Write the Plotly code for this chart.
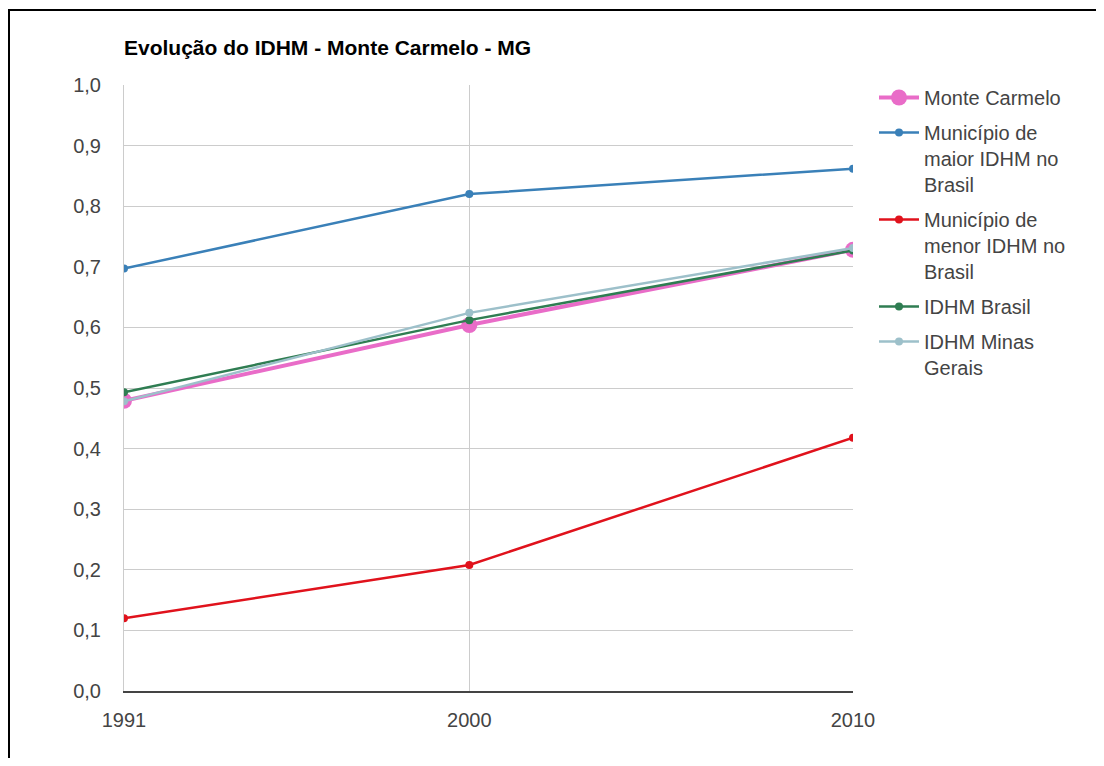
import plotly.graph_objects as go

years = [1991, 2000, 2010]
monte_carmelo = [0.479, 0.604, 0.728]
maior_idhm = [0.697, 0.820, 0.862]
menor_idhm = [0.120, 0.208, 0.418]
idhm_brasil = [0.493, 0.612, 0.727]
idhm_mg = [0.478, 0.624, 0.731]

y_ticks = [0.0, 0.1, 0.2, 0.3, 0.4, 0.5, 0.6, 0.7, 0.8, 0.9, 1.0]

series = [
    ("Monte Carmelo", monte_carmelo, "#e96cc8", 4, 16),
    ("Município de<br>maior IDHM no<br>Brasil", maior_idhm, "#3a80b8", 2.5, 8),
    ("Município de<br>menor IDHM no<br>Brasil", menor_idhm, "#e0121c", 2.5, 8),
    ("IDHM Brasil", idhm_brasil, "#2f7d52", 2.5, 8),
    ("IDHM Minas<br>Gerais", idhm_mg, "#9dc0ca", 2.5, 8),
]

# page has an 8px body margin; figure coordinates = page coordinates - 8
W, H = 1096, 750
L, R, T, B = 116, 251, 77, 67
pw, ph = W - L - R, H - T - B

fig = go.Figure()
for i, (name, vals, color, lw, ms) in enumerate(series):
    fig.add_trace(go.Scatter(
        x=years, y=vals, name=name, mode="lines+markers",
        line=dict(color=color, width=lw),
        marker=dict(color=color, size=ms),
        legendgroup=f"g{i}",
    ))

font_family = "Arial, Liberation Sans, sans-serif"


def px_x(p):
    return (p - L) / pw


def px_y(p):
    return 1 - (p - T) / ph


fig.add_shape(type="rect", xref="paper", yref="paper",
              x0=px_x(1), x1=px_x(1120), y0=px_y(790), y1=px_y(2),
              line=dict(color="black", width=2), layer="below")

fig.update_layout(
    width=W, height=H,
    margin=dict(l=L, r=R, t=T, b=B),
    paper_bgcolor="white", plot_bgcolor="white",
    separators=", ",
    font=dict(family=font_family, size=20, color="#444"),
    title=dict(text="<b>Evolução do IDHM - Monte Carmelo - MG</b>",
               x=px_x(116), xref="paper", xanchor="left",
               y=1 - 40 / H, yref="container", yanchor="middle",
               font=dict(family=font_family, size=21, color="#000")),
    legend=dict(x=px_x(866), y=px_y(70), xanchor="left", yanchor="top",
                font=dict(family=font_family, size=20, color="#444"),
                valign="top", traceorder="grouped", tracegroupgap=6,
                itemwidth=40, bgcolor="rgba(0,0,0,0)"),
    showlegend=True,
)
fig.update_xaxes(range=[1991, 2010], tickvals=years, ticktext=[str(y) for y in years],
                 showgrid=True, gridcolor="#cccccc", gridwidth=1,
                 showline=True, linecolor="#444", linewidth=2,
                 zeroline=False, ticks="outside", ticklen=10,
                 tickcolor="rgba(0,0,0,0)",
                 tickfont=dict(size=20, color="#444"))
fig.update_yaxes(range=[0, 1], tickvals=y_ticks, tickformat=".1f",
                 showgrid=True, gridcolor="#cccccc", gridwidth=1,
                 showline=True, linecolor="#cccccc", linewidth=1,
                 zeroline=False, ticks="outside", ticklen=18,
                 tickcolor="rgba(0,0,0,0)",
                 tickfont=dict(size=20, color="#444"))

fig.write_html("out.html")
